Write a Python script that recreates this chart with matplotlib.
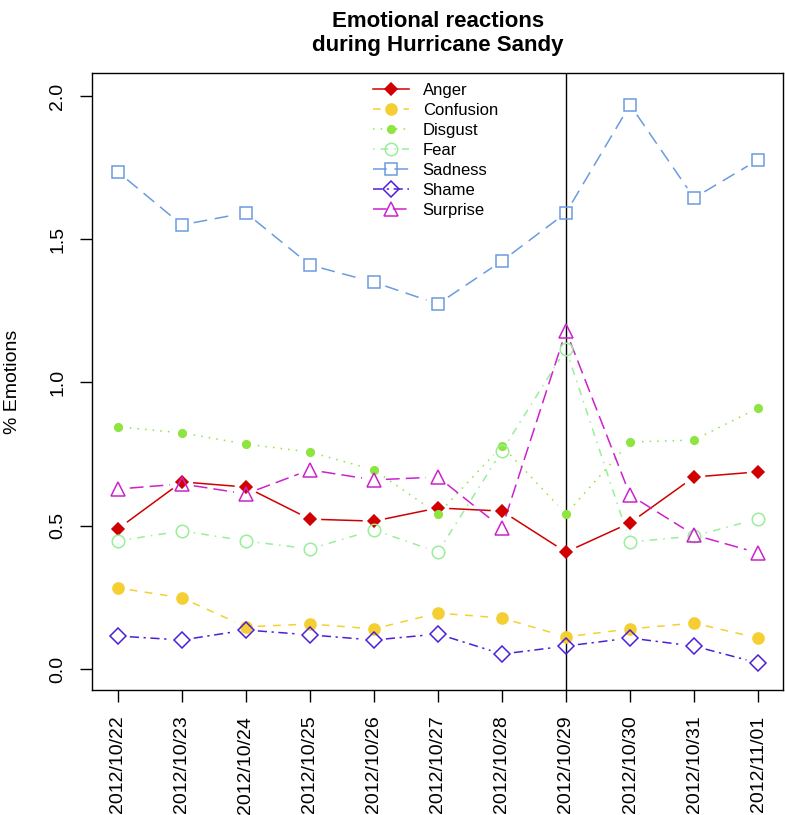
import matplotlib.pyplot as plt
from matplotlib.lines import Line2D
import numpy as np

dates = ['2012/10/22', '2012/10/23', '2012/10/24', '2012/10/25', '2012/10/26', '2012/10/27',
         '2012/10/28', '2012/10/29', '2012/10/30', '2012/10/31', '2012/11/01']

anger = [0.489, 0.653, 0.635, 0.523, 0.516, 0.562, 0.551, 0.408, 0.510, 0.670, 0.688]
confusion = [0.283, 0.248, 0.147, 0.157, 0.140, 0.195, 0.178, 0.112, 0.140, 0.160, 0.108]
disgust = [0.845, 0.824, 0.785, 0.757, 0.695, 0.541, 0.778, 0.541, 0.792, 0.799, 0.911]
fear = [0.447, 0.482, 0.447, 0.419, 0.485, 0.408, 0.761, 1.117, 0.443, 0.464, 0.524]
sadness = [1.735, 1.550, 1.592, 1.410, 1.350, 1.274, 1.424, 1.592, 1.969, 1.644, 1.777]
shame = [0.115, 0.101, 0.136, 0.119, 0.101, 0.122, 0.052, 0.080, 0.108, 0.080, 0.021]
surprise = [0.628, 0.646, 0.611, 0.695, 0.660, 0.670, 0.492, 1.180, 0.607, 0.468, 0.405]

landfall = '2012/10/29'

plt.rcParams['font.family'] = ['Liberation Sans', 'DejaVu Sans']

# name, values, colour, linestyle, marker, marker size, filled
series = [
    ('Anger', anger, '#D00000', '-', 'D', 6, True),
    ('Confusion', confusion, '#F5CF32', (0, (5, 5)), 'o', 8, True),
    ('Disgust', disgust, '#8EE53F', (0, (1, 4)), 'o', 5.5, True),
    ('Fear', fear, '#99EE99', (0, (1, 4, 5, 4)), 'o', 9, False),
    ('Sadness', sadness, '#6A9BE0', (0, (9, 5)), 's', 8, False),
    ('Shame', shame, '#4B20D8', (0, (6, 3, 1.5, 3)), 'D', 8, False),
    ('Surprise', surprise, '#CC22CC', (0, (9, 4)), '^', 10, False),
]

fig = plt.figure(figsize=(7.85, 8.15), dpi=100)
ax = fig.add_axes([0.117, 0.1534, 0.8805, 0.757])
x = np.arange(len(dates))
ax.set_xlim(-0.406, 10.39)
ax.set_ylim(-0.0733, 2.080)

# R type="b": segments stop short of each point
gap = 12
handles = []
for name, vals, col, ls, mk, ms, filled in series:
    pts = ax.transData.transform(np.column_stack([x, vals]))
    for a, b in zip(pts[:-1], pts[1:]):
        d = b - a
        ln = np.hypot(*d)
        if ln <= 2 * gap:
            continue
        u = d / ln
        seg = ax.transData.inverted().transform(np.array([a + u * gap, b - u * gap]))
        ax.plot(seg[:, 0], seg[:, 1], color=col, linestyle=ls, linewidth=1.1)
    fc = col if filled else 'none'
    ax.plot(x, vals, linestyle='none', marker=mk, markersize=ms, markerfacecolor=fc,
            markeredgecolor=col, markeredgewidth=1.1, zorder=3)
    handles.append(Line2D([], [], color=col, linestyle=ls, linewidth=1.1, marker=mk,
                          markersize=ms, markerfacecolor=fc, markeredgecolor=col,
                          markeredgewidth=1.1))

ax.axvline(dates.index(landfall), color='black', linewidth=1)

ax.set_xticks(x)
ax.set_xticklabels(dates, rotation=90, fontsize=14)
ax.set_yticks([0.0, 0.5, 1.0, 1.5, 2.0])
ax.set_yticklabels(['0.0', '0.5', '1.0', '1.5', '2.0'], rotation=90, va='center', fontsize=14)
ax.tick_params(direction='out', length=8.5, width=1, pad=10)
ax.set_ylabel('% Emotions', fontsize=14, labelpad=20)
for s in ax.spines.values():
    s.set_linewidth(1)

ax.legend(handles, [s[0] for s in series], loc='upper center', bbox_to_anchor=(0.497, 1.005),
          frameon=False, fontsize=12, handlelength=2.2, labelspacing=0.3, borderaxespad=0.4)

fig.suptitle('Emotional reactions\nduring Hurricane Sandy', x=0.558, y=0.987,
             fontsize=16, fontweight='bold')

fig.savefig('out.png', dpi=100)
